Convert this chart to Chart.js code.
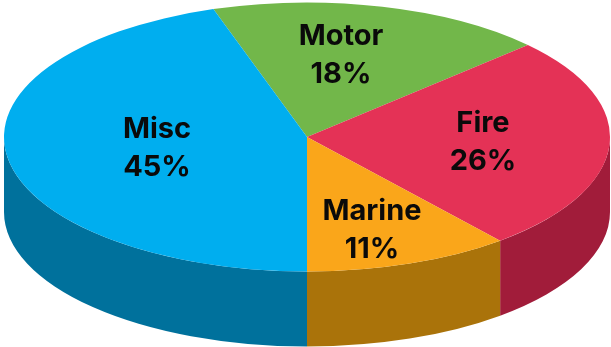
<!DOCTYPE html>
<html>
<head>
<meta charset="utf-8">
<title>Premium by class</title>
<style>
html, body { margin: 0; padding: 0; background: #fff; }
canvas { display: block; }
</style>
<script src="https://cdn.jsdelivr.net/npm/chart.js@4"></script>
</head>
<body>
<canvas id="myChart" width="611" height="347"></canvas>
<script>
const categories = ['Motor', 'Fire', 'Marine', 'Misc'];
const shares = [18, 26, 11, 45];
const topColors = ['#72B74A', '#E43256', '#FAA61A', '#00AEEF'];
const wallColors = ['#4F8034', '#A11C3A', '#AA730A', '#00719C'];
// centre of each two line label, same order as categories
const labelX = [341, 483, 372, 157];
const labelY = [55, 142, 230, 148];

const radius = 303;
const squash = 134.5 / 303;
const depth = 75;

// flattens the pie and puts the side wall under it
const tiltPlugin = {
  id: 'tilt',
  beforeDatasetsDraw(chart) {
    const ctx = chart.ctx;
    const arcs = chart.getDatasetMeta(0).data;
    arcs.forEach((arc, i) => {
      const from = Math.max(arc.startAngle, 0);
      const to = Math.min(arc.endAngle, Math.PI);
      if (to <= from) return;
      const rx = arc.outerRadius;
      const ry = rx * squash;
      ctx.beginPath();
      ctx.ellipse(arc.x, arc.y, rx, ry, 0, from, to);
      ctx.ellipse(arc.x, arc.y + depth, rx, ry, 0, to, from, true);
      ctx.closePath();
      ctx.fillStyle = wallColors[i];
      ctx.fill();
    });
    const first = arcs[0];
    ctx.save();
    ctx.translate(first.x, first.y);
    ctx.scale(1, squash);
    ctx.translate(-first.x, -first.y);
  },
  afterDatasetsDraw(chart) {
    const ctx = chart.ctx;
    ctx.restore();
    ctx.save();
    ctx.fillStyle = '#0a0a0a';
    ctx.font = '700 29px Inter';
    ctx.textAlign = 'center';
    ctx.textBaseline = 'middle';
    categories.forEach((name, i) => {
      ctx.fillText(name, labelX[i], labelY[i] - 19);
      ctx.fillText(shares[i] + '%', labelX[i], labelY[i] + 19);
    });
    ctx.restore();
  }
};

const data = {
  labels: categories,
  datasets: [{
    data: shares,
    backgroundColor: topColors,
    borderWidth: 0,
    radius: radius,
    clip: false
  }]
};

const config = {
  type: 'pie',
  data: data,
  options: {
    responsive: false,
    animation: false,
    rotation: -18,
    layout: { padding: { left: 3, bottom: 73 } },
    plugins: { legend: { display: false }, tooltip: { enabled: false } }
  },
  plugins: [tiltPlugin]
};

new Chart(document.getElementById('myChart'), config);
</script>
</body>
</html>
